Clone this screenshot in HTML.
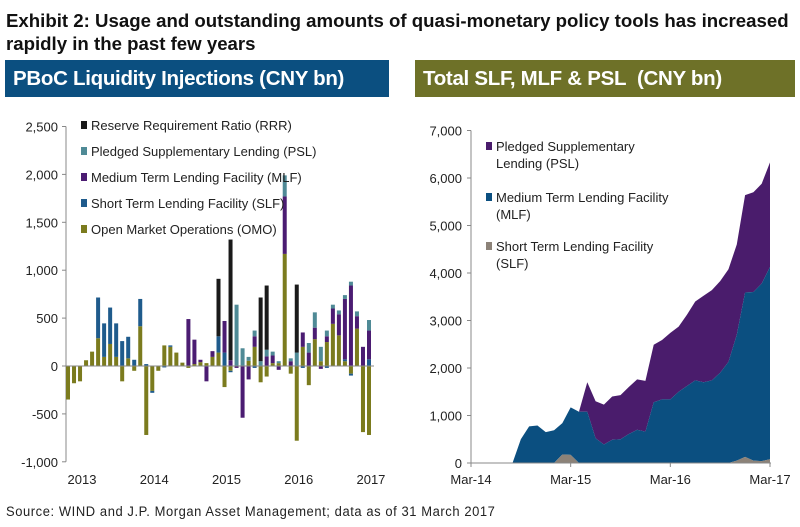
<!DOCTYPE html>
<html><head><meta charset="utf-8"><style>
body{margin:0;background:#fff;width:800px;height:527px;overflow:hidden;font-family:"Liberation Sans",sans-serif}
.t{position:absolute;left:6px;font-weight:bold;font-size:18px;line-height:22px;color:#111;white-space:nowrap;transform-origin:0 0;transform:scaleX(1.035)}
.h{position:absolute;top:60px;height:37px;color:#fff;font-weight:bold;font-size:20.5px;line-height:37px;padding-left:8px;letter-spacing:-0.3px;box-sizing:border-box;white-space:nowrap}
.src{position:absolute;left:6px;top:504px;font-size:13.5px;color:#222;letter-spacing:0.6px;white-space:nowrap;transform-origin:0 0;transform:scaleX(0.96)}
svg{position:absolute;left:0;top:0}
text{font-family:"Liberation Sans",sans-serif}
</style></head><body>
<div>
<div class="t" style="top:10px">Exhibit 2: Usage and outstanding amounts of quasi-monetary policy tools has increased</div>
<div class="t" style="top:33px">rapidly in the past few years</div>
</div>
<div class="h" style="left:5px;width:384px;background:#0b4f80">PBoC Liquidity Injections (CNY bn)</div>
<div class="h" style="left:415px;width:380px;background:#6e7128">Total SLF, MLF &amp; PSL&nbsp; (CNY bn)</div>
<div class="src">Source: WIND and J.P. Morgan Asset Management; data as of 31 March 2017</div>
<svg id="c" width="800" height="527"></svg>
<script>
// Left chart data (monthly Jan 2013 - Mar 2017)
const omo=[-350,-180,-160,60,150,290,95,230,95,-160,80,-50,415,-720,-260,-50,215,200,140,35,-20,20,40,30,95,140,-220,-50,0,0,55,200,-170,-110,30,30,1170,-80,-780,200,-200,280,50,250,440,320,50,-80,390,-690,-720];
const slf=[0,0,0,0,0,425,350,380,350,260,225,65,285,20,-20,0,-15,15,0,0,0,0,0,0,0,170,140,-15,0,0,0,-20,0,0,0,0,0,0,0,-20,0,0,0,-20,0,0,20,-20,0,0,70];
const mlf=[0,0,0,0,0,0,0,0,0,0,0,0,0,0,0,0,0,0,0,0,490,255,25,-160,60,0,330,60,-20,-540,-140,110,0,100,80,-40,600,50,0,150,140,120,-30,60,160,220,630,840,130,200,300];
const psl=[0,0,0,0,0,0,0,0,0,0,0,0,0,0,0,0,0,0,0,0,0,0,0,0,0,0,0,0,640,185,40,60,50,70,40,20,220,30,140,0,100,160,150,60,40,40,40,40,50,0,110];
const rrr=[0,0,0,0,0,0,0,0,0,0,0,0,0,0,0,0,0,0,0,0,0,0,0,0,0,600,0,1260,0,0,0,0,665,670,0,0,0,0,710,0,0,0,0,0,0,0,0,0,0,0,0];
const yTicksL=[2500,2000,1500,1000,500,0,-500,-1000];
const yearLabels=["2013","2014","2015","2016","2017"];
// Right chart data (monthly Mar 2014 - Mar 2017)
const slfOut=[0,0,0,0,0,0,0,0,0,0,0,180,170,0,0,0,0,0,0,0,0,0,0,0,10,0,0,0,0,0,0,0,50,130,50,40,80];
const mlfOut=[0,0,0,0,0,0,500,770,790,650,690,660,1000,1080,1080,520,390,490,500,610,700,660,1280,1340,1330,1500,1620,1740,1700,1740,1900,2130,2650,3460,3550,3740,4050];
const pslOut=[0,0,0,0,0,0,0,0,0,0,0,0,0,0,620,780,840,910,930,990,1060,1070,1210,1250,1400,1370,1500,1660,1820,1900,1930,1950,1900,2050,2100,2100,2200];
const yTicksR=[0,1000,2000,3000,4000,5000,6000,7000];
const xLabelsR=["Mar-14","Mar-15","Mar-16","Mar-17"];

const svg=document.getElementById('c');
const NS='http://www.w3.org/2000/svg';
function el(t,a,p){const e=document.createElementNS(NS,t);for(const k in a)e.setAttribute(k,a[k]);(p||svg).appendChild(e);return e;}
// Left axes
const yL=v=>366-v*0.0958;
const xL=i=>68+i*6.02;
const gl=el('g',{});


el('line',{x1:66,y1:yL(2500),x2:66,y2:yL(-1000),stroke:'#888'},gl);
yTicksL.forEach(v=>{el('line',{x1:62,x2:66,y1:yL(v),y2:yL(v),stroke:'#888'},gl);
 const t=el('text',{x:58,y:yL(v)+5,'text-anchor':'end','font-size':13,fill:'#222'},gl);t.textContent=v.toLocaleString('en-US');
 });
yearLabels.forEach((y,k)=>{const t=el('text',{x:xL(k*12)+14,y:484,'text-anchor':'middle','font-size':13,fill:'#222'},gl);t.textContent=y;
 });
const seriesL=[[omo,'#7b7b1e'],[slf,'#1f5b8c'],[mlf,'#4b1c72'],[psl,'#4f8a96'],[rrr,'#1a1a1a']];
for(let i=0;i<omo.length;i++){let pos=0,neg=0;
 seriesL.forEach(([arr,c])=>{const v=arr[i];if(!v)return;let a,b;
  if(v>0){a=pos;b=pos+v;pos=b;}else{a=neg;b=neg+v;neg=b;}
  const r=el('rect',{x:xL(i)-2,width:4,y:Math.min(yL(a),yL(b)),height:Math.abs(yL(a)-yL(b)),fill:c},gl);
  });}
el('line',{x1:66,x2:374,y1:yL(0),y2:yL(0),stroke:'#888'},gl);
const legL=[['Reserve Requirement Ratio (RRR)','#1a1a1a'],['Pledged Supplementary Lending (PSL)','#4f8a96'],['Medium Term Lending Facility (MLF)','#4b1c72'],['Short Term Lending Facility (SLF)','#1f5b8c'],['Open Market Operations (OMO)','#7b7b1e']];
legL.forEach(([n,c],k)=>{const y=126+k*26;
 const r=el('rect',{x:81,y:y-5,width:6,height:8,fill:c},gl);
 const t=el('text',{x:91,y:y+4,'font-size':13,fill:'#222'},gl);t.textContent=n;});
// Right chart
const yR=v=>463-v*0.0475;
const xR=i=>471+i*(299/36);
const gr=el('g',{});


function area(lo,hi,c,name){let d='M'+xR(0)+','+yR(hi[0]);
 for(let i=1;i<hi.length;i++)d+='L'+xR(i)+','+yR(hi[i]);
 for(let i=lo.length-1;i>=0;i--)d+='L'+xR(i)+','+yR(lo[i]);
 const p=el('path',{d:d+'Z',fill:c},gr);}
const z=slfOut.map(()=>0);
const s1=slfOut.slice();
const s2=s1.map((v,i)=>v+mlfOut[i]);
const s3=s2.map((v,i)=>v+pslOut[i]);
area(s2,s3,'#4a1c6c','psl-area');
area(s1,s2,'#0b4f80','mlf-area');
area(z,s1,'#8c8278','slf-area');
el('line',{x1:471,y1:yR(7000),x2:471,y2:yR(0),stroke:'#888'},gr);
el('line',{x1:471,y1:yR(0),x2:771,y2:yR(0),stroke:'#888'},gr);
yTicksR.forEach(v=>{el('line',{x1:467,x2:471,y1:yR(v),y2:yR(v),stroke:'#888'},gr);
 const t=el('text',{x:462,y:yR(v)+5,'text-anchor':'end','font-size':13,fill:'#222'},gr);t.textContent=v.toLocaleString('en-US');
 });
xLabelsR.forEach((l,k)=>{el('line',{x1:xR(k*12),x2:xR(k*12),y1:yR(0),y2:yR(0)+4,stroke:'#888'},gr);
 const t=el('text',{x:xR(k*12),y:484,'text-anchor':'middle','font-size':13,fill:'#222'},gr);t.textContent=l;
 });
const legR=[[['Pledged Supplementary','Lending (PSL)'],'#4a1c6c',147],[['Medium Term Lending Facility','(MLF)'],'#0b4f80',198],[['Short Term Lending Facility','(SLF)'],'#8c8278',247]];
legR.forEach(([ls,c,y])=>{const r=el('rect',{x:486,y:y-5,width:6,height:8,fill:c},gr);
 ls.forEach((l,j)=>{const t=el('text',{x:496,y:y+4+j*17,'font-size':13,fill:'#222'},gr);t.textContent=l;});});
</script>
</body></html>
